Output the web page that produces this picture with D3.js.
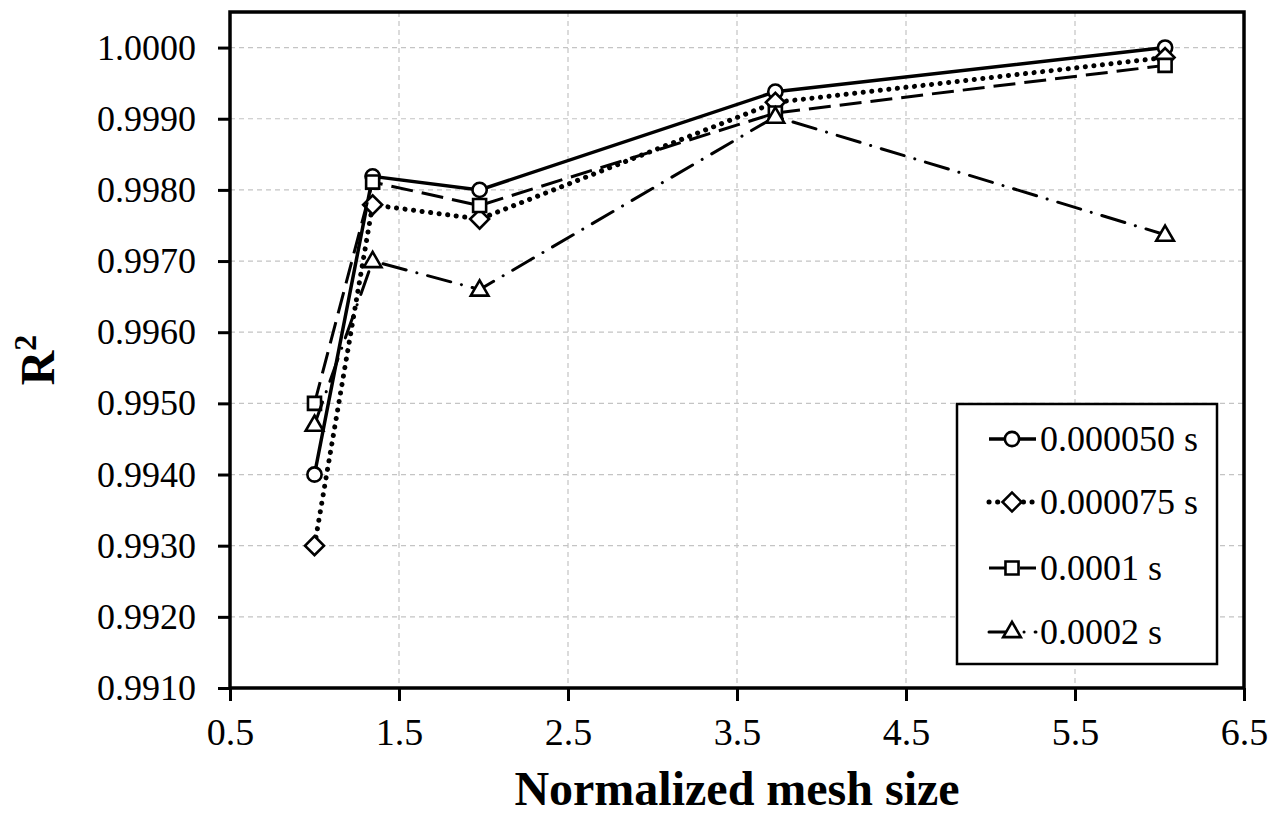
<!DOCTYPE html>
<html>
<head>
<meta charset="utf-8">
<script src="https://d3js.org/d3.v7.min.js"></script>
<style>
body { margin: 0; background: #fff; }
text { font-family: "Liberation Serif", "Times New Roman", serif; fill: #000; }
.grid line { stroke: #c4c4c4; stroke-width: 1.2; stroke-dasharray: 5,4; }
</style>
</head>
<body>
<svg width="1285" height="814"></svg>
<script>
// data
var meshSize = [1.0, 1.344, 1.977, 3.727, 6.033];
var seriesNames = ["0.000050 s", "0.000075 s", "0.0001 s", "0.0002 s"];
var r2_50  = [0.9940, 0.99819, 0.9980, 0.99938, 1.0000];
var r2_75  = [0.9930, 0.99779, 0.99759, 0.99923, 0.99986];
var r2_100 = [0.9950, 0.99811, 0.99778, 0.99908, 0.99975];
var r2_200 = [0.9947, 0.9970, 0.99660, 0.99903, 0.99737];
var xTicks = [0.5, 1.5, 2.5, 3.5, 4.5, 5.5, 6.5];
var yTicks = [0.9910, 0.9920, 0.9930, 0.9940, 0.9950, 0.9960, 0.9970, 0.9980, 0.9990, 1.0000];

var svg = d3.select("svg");
var pLeft = 230, pRight = 1244, pTop = 12, pBottom = 688;

var x = d3.scaleLinear().domain([0.5, 6.5]).range([pLeft, pRight]);
var y = d3.scaleLinear().domain([0.9910, 1.0005]).range([pBottom, pTop]);

// grid
var grid = svg.append("g").attr("class", "grid");
grid.selectAll(".gy").data(yTicks.slice(1)).enter().append("line")
    .attr("x1", pLeft).attr("x2", pRight)
    .attr("y1", function(d) { return y(d); }).attr("y2", function(d) { return y(d); });
grid.selectAll(".gx").data(xTicks.slice(1, -1)).enter().append("line")
    .attr("y1", pTop).attr("y2", pBottom)
    .attr("x1", function(d) { return x(d); }).attr("x2", function(d) { return x(d); });

// axes
var xAxis = svg.append("g").attr("transform", "translate(0," + pBottom + ")")
    .call(d3.axisBottom(x).tickValues(xTicks).tickFormat(d3.format(".1f")).tickSizeInner(13).tickSizeOuter(0).tickPadding(17));
var yAxis = svg.append("g").attr("transform", "translate(" + pLeft + ",0)")
    .call(d3.axisLeft(y).tickValues(yTicks).tickFormat(d3.format(".4f")).tickSizeInner(12).tickSizeOuter(0).tickPadding(22));

[xAxis, yAxis].forEach(function(a) {
  a.select(".domain").remove();
  a.selectAll(".tick line").attr("stroke", "#000").attr("stroke-width", 3);
  a.selectAll(".tick text").style("font-size", "36px").attr("fill", "#000");
});
xAxis.selectAll(".tick text").style("font-size", "38px");

// frame
svg.append("rect").attr("x", pLeft).attr("y", pTop)
    .attr("width", pRight - pLeft).attr("height", pBottom - pTop)
    .attr("fill", "none").attr("stroke", "#000").attr("stroke-width", 3.5);

// series
var styles = [
  { data: r2_50,  dash: null,           width: 3.5, cap: "butt",  marker: "circle" },
  { data: r2_75,  dash: "0.1,8.5",      width: 5,   cap: "round", marker: "diamond" },
  { data: r2_100, dash: "22,9",         width: 3,   cap: "butt",  marker: "square" },
  { data: r2_200, dash: "24,11,0.1,11", width: 3,   cap: "round", marker: "triangle" }
];

var symbols = {
  circle:   d3.symbol().type(d3.symbolCircle).size(160),
  diamond:  d3.symbol().type(d3.symbolSquare).size(180),
  square:   d3.symbol().type(d3.symbolSquare).size(170),
  triangle: d3.symbol().type(d3.symbolTriangle).size(135)
};

var line = d3.line()
    .x(function(d) { return x(d[0]); })
    .y(function(d) { return y(d[1]); });

styles.forEach(function(s) {
  var pts = meshSize.map(function(m, i) { return [m, s.data[i]]; });
  svg.append("path").datum(pts)
      .attr("d", line)
      .attr("fill", "none").attr("stroke", "#000")
      .attr("stroke-width", s.width).attr("stroke-linecap", s.cap)
      .attr("stroke-dasharray", s.dash);
  svg.selectAll(null).data(pts).enter().append("path")
      .attr("d", symbols[s.marker])
      .attr("transform", function(d) {
        var t = "translate(" + x(d[0]) + "," + y(d[1]) + ")";
        if (s.marker === "diamond") t += " rotate(45)";
        if (s.marker === "triangle") t += " translate(0,1)";
        return t;
      })
      .attr("fill", "#fff").attr("stroke", "#000").attr("stroke-width", 2.6);
});

// legend
var lg = svg.append("g");
lg.append("rect").attr("x", 957).attr("y", 404).attr("width", 260).attr("height", 260)
    .attr("fill", "#fff").attr("stroke", "#000").attr("stroke-width", 2.5);
var rowY = [439, 502, 568, 632];
styles.forEach(function(s, i) {
  var ry = rowY[i];
  lg.append("line").attr("x1", 989).attr("x2", 1036).attr("y1", ry).attr("y2", ry)
      .attr("stroke", "#000").attr("stroke-width", s.width).attr("stroke-linecap", s.cap)
      .attr("stroke-dasharray", s.dash);
  lg.append("path").attr("d", symbols[s.marker])
      .attr("transform", "translate(1012," + ry + ")" + (s.marker === "diamond" ? " rotate(45)" : ""))
      .attr("fill", "#fff").attr("stroke", "#000").attr("stroke-width", 2.6);
  lg.append("text").attr("x", 1040).attr("y", ry + 12)
      .style("font-size", "36px").text(seriesNames[i]);
});

// axis titles
svg.append("text").attr("x", (pLeft + pRight) / 2).attr("y", 805)
    .attr("text-anchor", "middle").style("font-size", "48px").style("font-weight", "bold")
    .text("Normalized mesh size");
var yt = svg.append("text").attr("transform", "translate(54," + 360 + ") rotate(-90)")
    .attr("text-anchor", "middle").style("font-size", "48px").style("font-weight", "bold");
yt.append("tspan").text("R");
yt.append("tspan").attr("dy", -18).style("font-size", "32px").text("2");
</script>
</body>
</html>
